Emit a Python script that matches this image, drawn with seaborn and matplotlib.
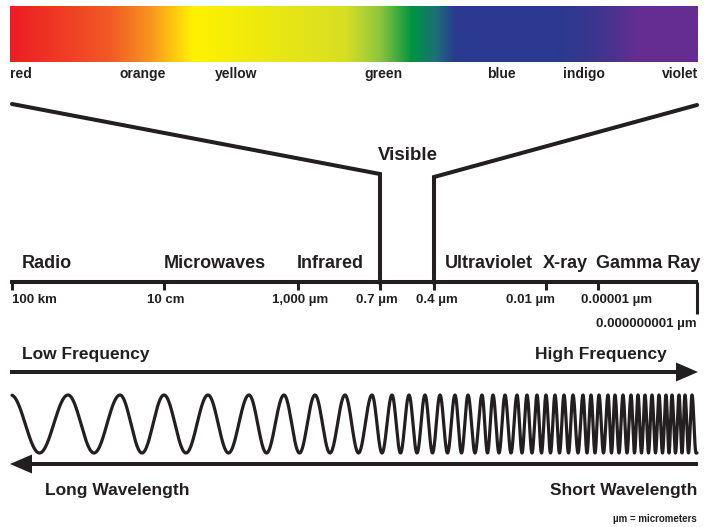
import numpy as np
import matplotlib
matplotlib.use("Agg")
import matplotlib.pyplot as plt
import seaborn as sns
from matplotlib.colors import LinearSegmentedColormap

# colour bar stops (fraction along the bar) and colours
color_stops = [0.0, 0.145, 0.203, 0.265, 0.487, 0.538, 0.584, 0.619, 0.647, 0.80, 0.85, 0.916, 1.0]
color_hex = ["#ED1C24", "#F15A24", "#F7941D", "#FFF200", "#D7DF23", "#8DC63F", "#009444",
             "#1C6F78", "#2B3990", "#2B3990", "#3B368F", "#662D91", "#662D91"]
color_names = ["red", "orange", "yellow", "green", "blue", "indigo", "violet"]
color_name_x = [10, 143, 236, 383, 501, 584, 698]

bands = ["Radio", "Microwaves", "Infrared", "Ultraviolet", "X-ray", "Gamma Ray"]
band_x = [22, 164, 297, 445, 543, 596]

tick_x = [12, 164, 298, 380, 434, 546, 598, 697]
tick_labels = ["100 km", "10 cm", "1,000 µm", "0.7 µm", "0.4 µm", "0.01 µm",
               "0.00001 µm", "0.000000001 µm"]
tick_label_x = [12, 166, 300, 377, 437, 530, 617, 697]

# x position of each wave crest
wave_peaks = [11, 68, 120, 164, 208, 249, 284, 315, 345, 372, 392, 409, 425, 440, 455,
              468, 482, 493, 505, 517, 527, 537, 546, 555, 564, 573, 583, 591, 599, 608,
              615, 623, 631, 638, 645, 652, 659, 666, 672, 679, 685, 692]

INK = "#231F20"

sns.set_theme(style="white")
plt.rcParams["font.family"] = ["Liberation Sans", "DejaVu Sans"]
FONT = dict(weight="bold", color=INK)

fig = plt.figure(figsize=(7.12, 5.27), dpi=100)
ax = fig.add_axes([0, 0, 1, 1])
ax.set_xlim(0, 712)
ax.set_ylim(527, 0)
ax.axis("off")

# spectrum bar
cmap = LinearSegmentedColormap.from_list("spec", list(zip(color_stops, color_hex)), N=1024)
ax.imshow(np.linspace(0, 1, 1024)[None, :], cmap=cmap, aspect="auto",
          extent=(10, 698, 62, 6), interpolation="bilinear")
for name, x in zip(color_names, color_name_x):
    ha = "left" if name == "red" else ("right" if name == "violet" else "center")
    ax.text(x, 74, name, ha=ha, va="center", fontsize=10, **FONT)

# funnel down to the visible band
lw = 2.9
ax.plot([12, 380, 380], [104, 174, 283], color=INK, lw=lw, solid_joinstyle="miter")
ax.plot([697, 434, 434], [105, 177, 283], color=INK, lw=lw, solid_joinstyle="miter")
ax.text(408, 156, "Visible", ha="center", va="center", fontsize=13.5, **FONT)

# wavelength axis
ax.plot([10, 698], [282, 282], color=INK, lw=lw, solid_capstyle="butt")
for x in tick_x:
    bottom = 314 if x == tick_x[-1] else 290
    ax.plot([x, x], [282, bottom], color=INK, lw=2.2, solid_capstyle="butt")
for lab, x in zip(tick_labels, tick_label_x):
    if lab == "100 km":
        ax.text(x, 300, lab, ha="left", va="center", fontsize=9.5, **FONT)
    elif lab == tick_labels[-1]:
        ax.text(x, 324, lab, ha="right", va="center", fontsize=9.5, **FONT)
    else:
        ax.text(x, 300, lab, ha="center", va="center", fontsize=9.5, **FONT)
for lab, x in zip(bands, band_x):
    ax.text(x, 263, lab, ha="left", va="center", fontsize=13, **FONT)

# frequency arrow
ax.text(22, 354, "Low Frequency", ha="left", va="center", fontsize=12.5, **FONT)
ax.text(667, 354, "High Frequency", ha="right", va="center", fontsize=12.5, **FONT)
ax.arrow(10, 372, 688, 0, width=4, head_width=19, head_length=22,
         length_includes_head=True, color=INK, lw=0)

# wave: crests from the picture, troughs halfway between
peaks = np.array(wave_peaks, dtype=float)
troughs = np.append((peaks[:-1] + peaks[1:]) / 2, 696)
extrema = np.empty(peaks.size + troughs.size)
extrema[0::2] = peaks
extrema[1::2] = troughs
xs = np.linspace(12, 697, 6000)
phase = np.interp(xs, extrema, np.arange(extrema.size) * np.pi)
ys = 424 - 29 * np.cos(phase)
sns.lineplot(x=xs, y=ys, sort=False, estimator=None, color=INK, lw=2.3, ax=ax)

# wavelength arrow
ax.arrow(698, 464, -688, 0, width=4, head_width=19, head_length=22,
         length_includes_head=True, color=INK, lw=0)
ax.text(45, 491, "Long Wavelength", ha="left", va="center", fontsize=12.5, **FONT)
ax.text(697, 491, "Short Wavelength", ha="right", va="center", fontsize=12.5, **FONT)
ax.text(697, 519, "µm = micrometers", ha="right", va="center", fontsize=7, **FONT)

ax.set_xlim(0, 712)
ax.set_ylim(527, 0)
fig.savefig("out.png", dpi=100)
